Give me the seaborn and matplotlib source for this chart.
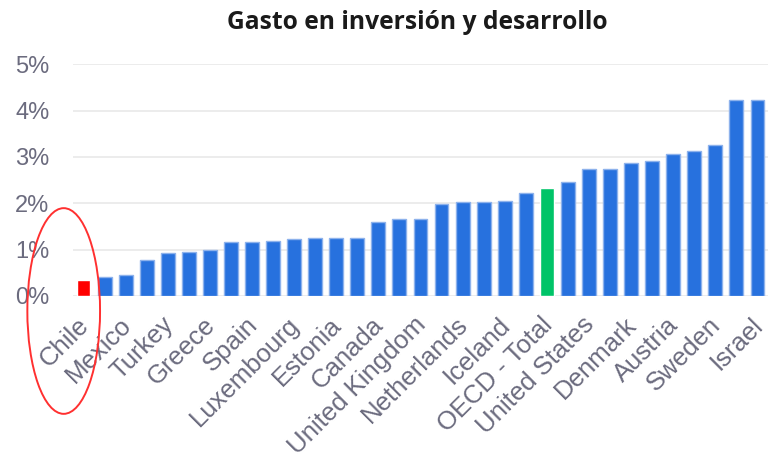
import numpy as np
import seaborn as sns
import matplotlib.pyplot as plt
from matplotlib.patches import Ellipse
from matplotlib.ticker import FuncFormatter

# pais / gasto I+D (% del PIB), ordenado de menor a mayor
paises = ['Chile', 'Latvia', 'Mexico', 'Slovak Republic', 'Turkey', 'Poland',
          'Greece', 'Ireland', 'Spain', 'Portugal', 'Luxembourg', 'Italy',
          'Estonia', 'Hungary', 'Canada', 'Czech Republic', 'United Kingdom',
          'Slovenia', 'Netherlands', 'Norway', 'Iceland', 'France',
          'OECD - Total', 'Belgium', 'United States', 'Finland', 'Denmark',
          'Germany', 'Austria', 'Japan', 'Sweden', 'Korea', 'Israel']
gasto = [0.34, 0.42, 0.46, 0.77, 0.93, 0.95, 0.99, 1.16, 1.17, 1.19, 1.22,
         1.25, 1.26, 1.26, 1.59, 1.66, 1.67, 1.99, 2.02, 2.02, 2.06, 2.23,
         2.33, 2.47, 2.74, 2.74, 2.86, 2.92, 3.07, 3.13, 3.25, 4.22, 4.24]
resaltados = {'Chile': '#ff0000', 'OECD - Total': '#00c468'}
azul = '#2771de'

colores = [resaltados.get(p, azul) for p in paises]

sns.set_style('white')
fig = plt.figure(figsize=(7.68, 4.61), dpi=100)
ax = fig.add_axes([0.095, 0.358, 0.905, 0.5025])

sns.barplot(x=paises, y=gasto, hue=paises, palette=colores, legend=False,
            width=0.66, saturation=1, ax=ax, zorder=3)
for p, barra in zip(paises, ax.patches):
    if p not in resaltados:
        barra.set_edgecolor('#8db2ec')
        barra.set_linewidth(1)

ax.set_ylim(0, 5)
ax.set_xlim(-0.5, len(paises) - 0.5)
ax.set_yticks(range(6))
ax.yaxis.set_major_formatter(FuncFormatter(lambda v, pos: '%d%%' % v))
ax.grid(axis='y', color='#ebebeb', linewidth=1.3, zorder=0)
ax.set_axisbelow(True)
sns.despine(ax=ax, left=True, bottom=True)

gris = '#6b6b7e'
# etiquetas cada dos barras, un poco corridas a la izquierda como en el original
ax.set_xticks(np.arange(0, len(paises), 2) - 0.32)
ax.set_xticklabels(paises[::2], rotation=45, ha='right', va='top',
                   rotation_mode='anchor', fontsize=18.5, color=gris,
                   family='Liberation Sans')
ax.tick_params(axis='x', length=0, pad=12)
ax.tick_params(axis='y', length=0, pad=17, labelsize=17, labelcolor=gris)
for t in ax.get_yticklabels():
    t.set_family('Liberation Sans')
ax.set_xlabel('')
ax.set_ylabel('')

fig.text(0.544, 0.952, 'Gasto en inversión y desarrollo', ha='center',
         va='center', fontsize=17.7, fontweight='bold', family='Open Sans',
         color='#1a1a1a')

ax_ov = fig.add_axes([0, 0, 1, 1], facecolor='none')
ax_ov.set_axis_off()
ax_ov.set_xlim(0, 768)
ax_ov.set_ylim(461, 0)
ax_ov.add_patch(Ellipse((63.7, 311), 72.7, 205.7, fill=False,
                        edgecolor='#ff3030', linewidth=1.4))

fig.savefig('out.png', dpi=100)
